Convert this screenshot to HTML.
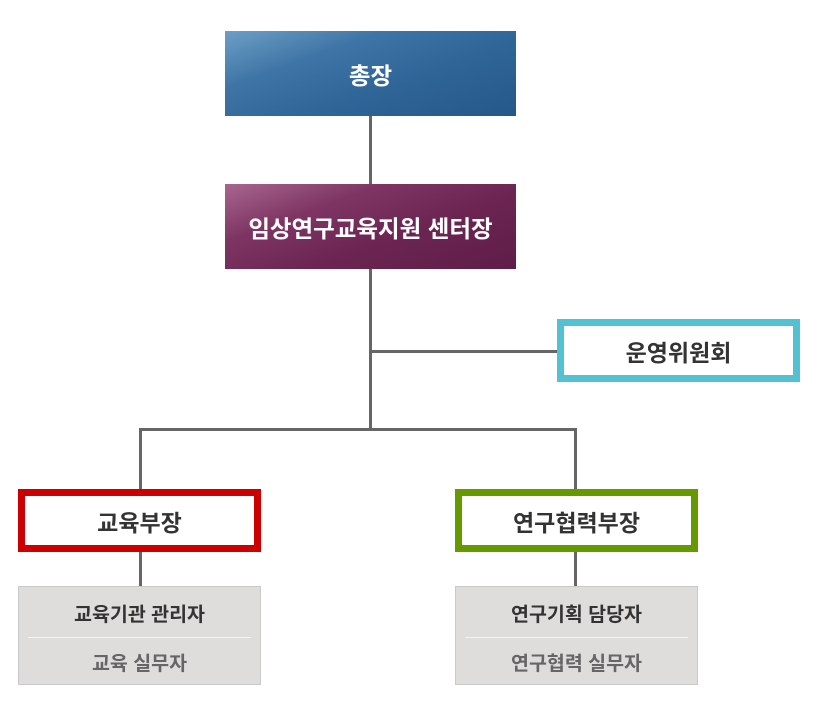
<!DOCTYPE html>
<html><head><meta charset="utf-8"><style>
body{margin:0;width:821px;height:708px;background:#fff;position:relative;overflow:hidden;font-family:"Liberation Sans","Noto Sans CJK KR",sans-serif;}
.a{position:absolute;box-sizing:border-box;}
.l{position:absolute;background:#666;}
.t{display:flex;align-items:center;justify-content:center;font-weight:bold;}
</style></head><body>
<div class="a t" style="left:225px;top:31px;width:291px;height:85px;color:#fff;font-size:23.5px;background:linear-gradient(160deg,#6d9fc6 0%,#3f75a6 30%,#2f6597 60%,#255889 100%);">총장</div>
<div class="a t" style="left:225px;top:184px;width:291px;height:85px;color:#fff;font-size:23.5px;background:linear-gradient(160deg,#a8678f 0%,#7e3563 30%,#6c2552 60%,#5e1d47 100%);">임상연구교육지원 센터장</div>
<div class="l" style="left:369px;top:116px;width:3px;height:68px;"></div>
<div class="l" style="left:369px;top:269px;width:3px;height:160px;"></div>
<div class="l" style="left:369px;top:350px;width:188px;height:3px;"></div>
<div class="l" style="left:139px;top:428px;width:438px;height:3px;"></div>
<div class="l" style="left:139px;top:428px;width:3px;height:61px;"></div>
<div class="l" style="left:574px;top:428px;width:3px;height:61px;"></div>
<div class="l" style="left:139px;top:552px;width:3px;height:34px;"></div>
<div class="l" style="left:574px;top:552px;width:3px;height:34px;"></div>
<div class="a t" style="left:557px;top:319px;width:243px;height:63px;border:7px solid #52c2d3;color:#333;font-size:23px;">운영위원회</div>
<div class="a t" style="left:18px;top:489px;width:243px;height:63px;border:7px solid #cc0000;color:#333;font-size:23px;">교육부장</div>
<div class="a t" style="left:455px;top:489px;width:243px;height:63px;border:7px solid #669900;color:#333;font-size:23px;">연구협력부장</div>
<div class="a" style="left:18px;top:586px;width:243px;height:99px;background:#dfdcdc;border:1px solid #c9c9c9;">
<div class="t" style="height:50px;color:#333;font-size:19.5px;">교육기관 관리자</div>
<div style="margin:0 9px;height:1px;background:#f4f4f4;"></div>
<div class="t" style="height:46px;color:#666;font-size:19.5px;">교육 실무자</div></div>
<div class="a" style="left:455px;top:586px;width:243px;height:99px;background:#dfdcdc;border:1px solid #c9c9c9;">
<div class="t" style="height:50px;color:#333;font-size:19.5px;">연구기획 담당자</div>
<div style="margin:0 9px;height:1px;background:#f4f4f4;"></div>
<div class="t" style="height:46px;color:#666;font-size:19.5px;">연구협력 실무자</div></div>
</body></html>
